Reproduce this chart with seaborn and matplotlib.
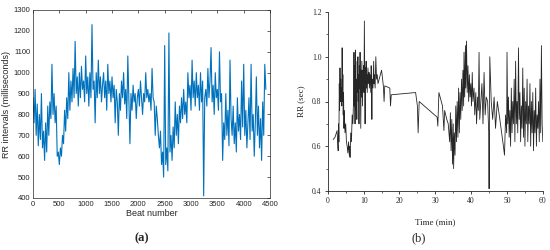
import numpy as np
import pandas as pd
import matplotlib
matplotlib.use("Agg")
import matplotlib.pyplot as plt
import seaborn as sns

sns.set_style("white")
plt.rcParams["font.family"] = ["Liberation Sans", "DejaVu Sans"]

# (a) RR intervals in ms, one reading every 20 beats
beat_step = 20
rr_ms = [
    880, 760, 920, 700, 850, 650, 800, 680, 900, 640,
    720, 580, 760, 620, 840, 700, 860, 780, 1040, 800,
    900, 760, 840, 600, 620, 560, 640, 600, 700, 660,
    820, 720, 880, 780, 1000, 820, 960, 860, 1020, 880,
    1150, 900, 980, 840, 1000, 880, 1030, 920, 960, 860,
    1080, 900, 980, 840, 1000, 880, 1230, 920, 960, 760,
    1000, 880, 1060, 900, 980, 860, 940, 1000, 880, 960,
    820, 1040, 900, 960, 860, 980, 880, 940, 760, 920,
    860, 700, 900, 820, 960, 880, 1000, 850, 920, 780,
    1080, 880, 660, 900, 820, 940, 860, 900, 780, 880,
    920, 840, 960, 880, 800, 900, 860, 1000, 880, 920,
    860, 900, 820, 1020, 880, 860, 700, 840, 780, 700,
    640, 720, 560, 620, 500, 1130, 560, 640, 530, 1190,
    620, 700, 580, 740, 640, 860, 700, 800, 660, 840,
    760, 880, 780, 920, 800, 860, 760, 1000, 880, 940,
    820, 1060, 880, 960, 840, 1000, 880, 940, 820, 1000,
    860, 960, 410, 880, 920, 840, 1020, 880, 960, 1120,
    860, 940, 800, 1000, 880, 920, 820, 1100, 860, 900,
    580, 760, 680, 900, 700, 820, 650, 1060, 780, 700,
    840, 660, 760, 620, 880, 720, 800, 680, 960, 740,
    1040, 700, 820, 640, 760, 880, 680, 1040, 720, 800,
    600, 760, 980, 700, 840, 640, 780, 580, 860, 700,
    1040, 920,
]

# (b) RR in seconds against time in minutes
t_min = [
    1.5, 2.0, 2.6, 2.8,
    2.9, 3.0, 3.1, 3.2, 3.3, 3.4, 3.5, 3.6, 3.7, 3.8, 3.9, 4.0, 4.1, 4.2, 4.3, 4.4,
    4.5, 4.6, 4.8, 5.0, 5.2, 5.4, 5.6, 5.8, 6.0, 6.1, 6.2, 6.4, 6.6, 6.8, 7.0,
    7.2, 7.3, 7.4, 7.5, 7.6, 7.7, 7.8, 7.9, 8.0, 8.1, 8.2, 8.3, 8.4, 8.5, 8.6, 8.7,
    8.8, 8.9, 9.0, 9.1, 9.2, 9.3, 9.4, 9.5, 9.6, 9.7, 9.8, 9.9, 10.0, 10.1, 10.2,
    10.3, 10.4, 10.5, 10.6, 10.7, 10.8, 10.9, 11.0, 11.2, 11.4, 11.5, 11.6, 11.8,
    12.0, 12.1, 12.2, 12.3, 12.4, 12.6, 12.8, 12.9, 13.0, 13.2, 13.4, 13.6, 13.8,
    14.0, 15.0, 15.5, 15.7, 15.9, 17.3, 17.5, 17.7, 24.5, 25.0, 25.2, 25.5,
    30.5, 30.7, 31.0, 32.0, 32.4, 32.6, 33.2, 33.6, 34.0,
    34.2, 34.4, 34.6, 34.8, 35.0, 35.1, 35.3, 35.5, 35.7, 35.9, 36.1, 36.3, 36.5,
    36.7, 36.9, 37.1, 37.3, 37.5, 37.7, 37.9, 38.0, 38.2, 38.4, 38.5, 38.7, 38.9,
    39.1, 39.3, 39.5, 39.7, 39.9, 40.1, 40.3, 40.5, 40.8, 41.0, 41.3, 41.5, 41.8,
    42.0, 42.2, 42.4, 42.7, 43.0, 43.3, 43.6, 43.9, 44.2, 44.6, 44.9,
    45.0, 45.2, 45.6, 46.0, 46.4, 46.8, 47.3, 48.0, 49.0, 49.3, 49.6, 49.9,
    50.0, 50.2, 50.4, 50.6, 50.8, 51.0, 51.2, 51.4, 51.6, 51.8, 52.0, 52.2, 52.4,
    52.6, 52.8, 53.0, 53.2, 53.4, 53.6, 53.8, 54.0, 54.2, 54.4, 54.6, 54.8, 55.0,
    55.2, 55.4, 55.6, 55.8, 56.0, 56.2, 56.4, 56.6, 56.8, 57.0, 57.2, 57.4, 57.6,
    57.8, 58.0, 58.2, 58.4, 58.6, 58.8, 59.0, 59.2, 59.4, 59.6, 59.8, 60.0,
]
rr_sec = [
    0.63, 0.64, 0.67, 0.60,
    0.58, 0.70, 0.62, 0.88, 0.76, 0.95, 0.80, 0.90, 0.82, 0.86, 0.78, 1.04, 0.80, 0.92, 0.74, 0.84,
    0.68, 0.76, 0.66, 0.70, 0.62, 0.60, 0.57, 0.62, 0.56, 0.60, 0.55, 0.66, 0.62, 0.74, 0.70,
    0.82, 1.02, 0.78, 0.96, 0.70, 1.03, 0.84, 0.76, 0.90, 0.72, 0.98, 0.84, 1.00, 0.80, 0.92, 0.70,
    0.96, 0.86, 1.02, 0.84, 0.68, 0.94, 0.82, 0.98, 0.88, 0.78, 0.94, 0.86, 0.96, 0.84, 1.16,
    0.90, 0.70, 0.95, 0.88, 0.98, 0.86, 0.92, 0.84, 0.95, 0.88, 0.93, 0.86, 0.92,
    0.84, 0.96, 0.88, 0.72, 0.90, 0.86, 0.98, 0.88, 0.92, 0.86, 1.00, 0.90, 0.92,
    0.88, 0.94, 0.87, 0.80, 0.87, 0.86, 0.78, 0.83, 0.84, 0.78, 0.66, 0.80,
    0.73, 0.69, 0.84, 0.78, 0.67, 0.76, 0.72, 0.70, 0.62,
    0.75, 0.58, 0.72, 0.52, 0.70, 0.50, 0.66, 0.56, 0.78, 0.62, 0.80, 0.64, 0.86,
    0.66, 0.84, 0.72, 0.90, 0.76, 0.94, 0.78, 1.02, 0.82, 1.05, 0.86, 1.07, 0.84,
    0.96, 0.80, 0.92, 0.82, 0.88, 0.78, 0.93, 0.80, 0.86, 0.74, 0.84, 0.70, 0.82,
    0.76, 1.02, 0.72, 0.80, 0.88, 0.70, 0.93, 0.74, 0.82, 0.80, 0.66,
    0.41, 1.00, 0.80, 0.72, 0.82, 0.68, 0.80, 0.72, 0.60, 0.56, 0.74, 0.66,
    1.02, 0.70, 0.82, 0.64, 0.76, 0.60, 0.86, 0.66, 0.80, 0.70, 0.90, 0.62, 0.98,
    0.70, 0.80, 0.66, 1.04, 0.72, 0.84, 0.62, 0.78, 0.68, 0.95, 0.64, 0.86, 0.60,
    0.80, 0.70, 0.90, 0.62, 0.78, 0.70, 0.88, 0.60, 0.80, 0.66, 0.84, 0.58, 0.76,
    0.66, 0.86, 0.60, 0.74, 0.68, 0.80, 0.62, 0.90, 0.66, 1.05, 0.70, 0.62,
]

df_a = pd.DataFrame({"beat": np.arange(len(rr_ms)) * beat_step, "rr": rr_ms})
df_b = pd.DataFrame({"t": t_min, "rr": rr_sec})

fig = plt.figure(figsize=(5.5, 2.5), dpi=100)

# left panel, matlab look
ax1 = fig.add_axes([0.06, 0.208, 0.431, 0.752])
sns.lineplot(data=df_a, x="beat", y="rr", ax=ax1, color="#0072BD",
             linewidth=0.8, estimator=None, sort=False)
ax1.set_xlim(0, 4500)
ax1.set_ylim(400, 1300)
ax1.set_xticks(range(0, 4501, 500))
ax1.set_yticks(range(400, 1301, 100))
ax1.tick_params(direction="in", length=2, width=0.5, labelsize=5.5,
                colors="#262626", top=True, right=True, pad=2)
for s in ax1.spines.values():
    s.set_color("#262626")
    s.set_linewidth(0.5)
ax1.set_xlabel("Beat number", fontsize=6.5, labelpad=1, color="#262626")
ax1.set_ylabel("RR intervals (milliseconds)", fontsize=6.5, labelpad=2, color="#262626")
fig.text(0.258, 0.048, "(a)", ha="center", va="center", fontsize=9,
         fontweight="bold", family="Liberation Serif")

# right panel, origin look
ax2 = fig.add_axes([0.596, 0.236, 0.391, 0.716])
sns.lineplot(data=df_b, x="t", y="rr", ax=ax2, color="black",
             linewidth=0.6, alpha=0.85, estimator=None, sort=False)
ax2.set_xlim(0, 60)
ax2.set_ylim(0.4, 1.2)
ax2.set_xticks(range(0, 61, 10))
ax2.set_xticks(range(5, 60, 10), minor=True)
ax2.set_yticks([0.4, 0.6, 0.8, 1.0, 1.2])
ax2.set_yticks([0.5, 0.7, 0.9, 1.1], minor=True)
ax2.set_yticklabels(["0.4", "0.6", "0.8", "1.0", "1.2"])
ax2.tick_params(which="major", direction="out", length=2.5, width=0.6,
                labelsize=5.5, pad=2, left=True, bottom=True)
ax2.tick_params(which="minor", direction="out", length=1.5, width=0.5,
                left=True, bottom=True)
for lab in ax2.get_xticklabels() + ax2.get_yticklabels():
    lab.set_family("Liberation Serif")
sns.despine(ax=ax2)
for s in ax2.spines.values():
    s.set_linewidth(0.6)
ax2.set_xlabel("Time (min)", fontsize=6.5, family="Liberation Serif", labelpad=9)
ax2.set_ylabel("RR (sec)", fontsize=6.5, family="Liberation Serif", labelpad=5)
fig.text(0.762, 0.048, "(b)", ha="center", va="center", fontsize=9,
         family="Liberation Serif")

fig.save_fig = None
fig.savefig("out.png", dpi=100)
